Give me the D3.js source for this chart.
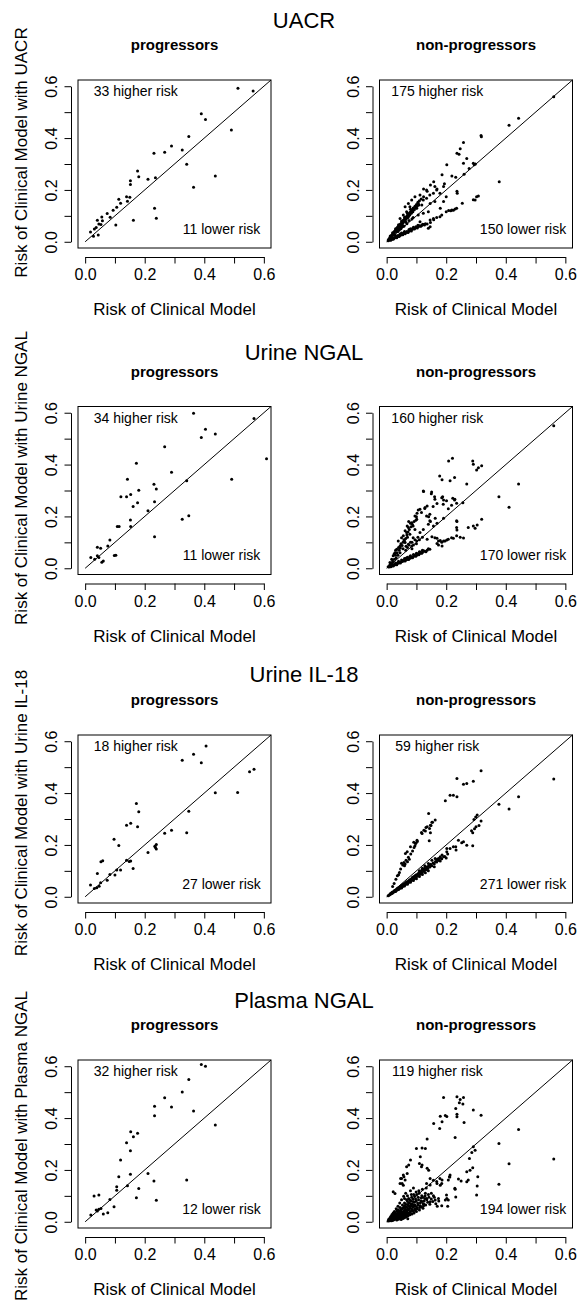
<!DOCTYPE html>
<html>
<head>
<meta charset="utf-8">
<script src="https://cdn.jsdelivr.net/npm/d3@7"></script>
<style>
  body { margin: 0; background: #fff; }
  text { font-family: "Liberation Sans", Arial, Helvetica, sans-serif; }
</style>
</head>
<body>
<div id="chart"></div>
<script>
// Labels and counts
const markers = ["UACR", "Urine NGAL", "Urine IL-18", "Plasma NGAL"];
const groups = ["progressors", "non-progressors"];
const higherCounts = [[33, 175], [34, 160], [18, 59], [32, 119]];
const lowerCounts = [[11, 150], [11, 170], [27, 271], [12, 194]];
const tickValues = [0, 0.1, 0.2, 0.3, 0.4, 0.5, 0.6];
const labeledTicks = [0, 0.2, 0.4, 0.6];
const axisLimits = [-0.024, 0.624];

// [risk of clinical model, risk of clinical model + marker]
const uacrProg = [[0.513,0.592],[0.564,0.582],[0.390,0.494],[0.404,0.472],[0.491,0.431],[0.348,0.406],[0.290,0.369],[0.267,0.345],[0.231,0.341],[0.326,0.354],[0.341,0.299],[0.176,0.273],[0.180,0.251],[0.152,0.235],[0.152,0.221],[0.211,0.241],[0.236,0.247],[0.364,0.210],[0.437,0.254],[0.139,0.174],[0.150,0.172],[0.142,0.156],[0.113,0.164],[0.119,0.149],[0.106,0.133],[0.094,0.122],[0.074,0.109],[0.084,0.095],[0.056,0.096],[0.058,0.081],[0.041,0.083],[0.046,0.069],[0.053,0.067],[0.037,0.055],[0.031,0.049],[0.018,0.038],[0.028,0.021],[0.044,0.026],[0.103,0.065],[0.162,0.083],[0.233,0.129],[0.239,0.091]];

const uacrNon = [[0.561,0.559],[0.443,0.476],[0.411,0.449],[0.317,0.410],[0.318,0.405],[0.258,0.383],[0.247,0.359],[0.236,0.341],[0.243,0.338],[0.269,0.321],[0.258,0.303],[0.202,0.297],[0.291,0.303],[0.294,0.297],[0.298,0.300],[0.277,0.283],[0.260,0.260],[0.232,0.249],[0.219,0.254],[0.186,0.259],[0.194,0.224],[0.158,0.232],[0.147,0.219],[0.124,0.204],[0.136,0.195],[0.124,0.174],[0.169,0.204],[0.191,0.213],[0.378,0.232],[0.302,0.174],[0.308,0.177],[0.291,0.162],[0.254,0.149],[0.236,0.195],[0.191,0.155],[0.180,0.129],
  [0.200,0.174],[0.237,0.187],[0.134,0.200],[0.145,0.180],[0.157,0.187],[0.168,0.200],[0.179,0.187],[0.162,0.213],[0.112,0.180],[0.095,0.174],[0.084,0.161],[0.123,0.161],[0.134,0.168],[0.106,0.148],[0.118,0.142],[0.146,0.148],[0.162,0.155],[0.073,0.148],[0.062,0.135],[0.078,0.135],[0.089,0.129],[0.101,0.129],[0.067,0.116],[0.084,0.116],[0.056,0.103],[0.073,0.099],[0.045,0.090],[0.061,0.084],[0.089,0.094],[0.106,0.103],[0.123,0.110],[0.140,0.116],
  [0.010,0.016],[0.013,0.020],[0.016,0.024],[0.020,0.030],[0.023,0.035],[0.026,0.040],[0.030,0.045],[0.033,0.050],[0.036,0.055],[0.040,0.060],[0.043,0.064],[0.046,0.069],[0.050,0.074],[0.053,0.079],[0.056,0.083],[0.060,0.088],[0.063,0.092],[0.066,0.097],[0.070,0.102],[0.074,0.107],[0.078,0.113],[0.082,0.118],[0.086,0.124],[0.090,0.130],[0.095,0.137],[0.100,0.144],[0.105,0.152],[0.110,0.158],[0.116,0.165],[0.020,0.035],[0.030,0.050],[0.040,0.066],[0.050,0.080],[0.060,0.095],[0.070,0.110],[0.080,0.125],[0.025,0.032],[0.035,0.048],[0.045,0.058],[0.055,0.072],[0.065,0.088],[0.075,0.100],
  [0.012,0.022],[0.018,0.026],[0.022,0.028],[0.028,0.042],[0.032,0.040],[0.038,0.058],[0.042,0.052],[0.048,0.066],[0.052,0.064],[0.058,0.078],[0.062,0.082],[0.068,0.092],[0.072,0.094],[0.078,0.104],[0.083,0.110],[0.088,0.116],[0.093,0.124],[0.098,0.130],[0.103,0.138],[0.108,0.142],[0.035,0.040],[0.045,0.050],[0.055,0.062],[0.065,0.075],[0.075,0.082],[0.042,0.045],[0.052,0.058],
  [0.005,0.004],[0.008,0.006],[0.006,0.009],[0.010,0.010],[0.012,0.013],[0.015,0.014],[0.018,0.020],[0.028,0.027],[0.038,0.040],[0.048,0.050],[0.058,0.060],[0.068,0.070],[0.085,0.088],
  [0.012,0.008],[0.016,0.010],[0.020,0.012],[0.024,0.014],[0.028,0.016],[0.032,0.018],[0.036,0.020],[0.040,0.022],[0.044,0.024],[0.048,0.026],[0.052,0.029],[0.056,0.031],[0.060,0.033],[0.065,0.036],[0.070,0.038],[0.075,0.041],[0.080,0.044],[0.085,0.047],[0.090,0.050],[0.095,0.052],[0.100,0.055],[0.106,0.058],[0.112,0.061],[0.118,0.064],[0.124,0.067],[0.130,0.070],[0.030,0.022],[0.045,0.030],[0.060,0.040],[0.075,0.047],[0.090,0.056],[0.105,0.064],[0.020,0.016],[0.050,0.034],[0.080,0.050],[0.136,0.069],[0.147,0.074],[0.158,0.085],[0.140,0.052],[0.146,0.058],[0.112,0.077],[0.146,0.084],[0.157,0.090],[0.168,0.094],[0.179,0.097],[0.185,0.103],[0.200,0.116],[0.208,0.121],[0.215,0.120],[0.219,0.123],[0.224,0.122],[0.230,0.126],[0.235,0.129],[0.297,0.161],
  [0.014,0.006],[0.022,0.010],[0.026,0.016],[0.034,0.016],[0.038,0.024],[0.042,0.020],[0.046,0.028],[0.054,0.027],[0.058,0.036],[0.062,0.031],[0.068,0.040],[0.072,0.036],[0.078,0.046],[0.083,0.042],[0.088,0.052],[0.093,0.049],[0.098,0.058],[0.103,0.053],[0.109,0.062],[0.115,0.060],[0.121,0.068],[0.127,0.065]];

const ungalProg = [[0.364,0.598],[0.567,0.578],[0.609,0.422],[0.390,0.504],[0.404,0.536],[0.437,0.518],[0.267,0.469],[0.172,0.405],[0.142,0.343],[0.290,0.370],[0.341,0.338],[0.492,0.343],[0.231,0.324],[0.239,0.306],[0.180,0.301],[0.120,0.276],[0.139,0.276],[0.153,0.285],[0.176,0.253],[0.233,0.257],[0.161,0.238],[0.211,0.222],[0.152,0.186],[0.326,0.189],[0.348,0.203],[0.108,0.161],[0.114,0.161],[0.153,0.161],[0.083,0.109],[0.076,0.086],[0.233,0.122],[0.041,0.081],[0.052,0.077],[0.019,0.042],[0.032,0.035],[0.041,0.048],[0.046,0.042],[0.056,0.023],[0.061,0.028],[0.098,0.049],[0.103,0.050]];

const ungalNon = [[0.561,0.550],[0.208,0.414],[0.221,0.424],[0.289,0.414],[0.291,0.401],[0.302,0.379],[0.308,0.388],[0.319,0.395],[0.178,0.356],[0.186,0.341],[0.228,0.350],[0.213,0.338],[0.269,0.325],[0.377,0.276],[0.411,0.235],[0.443,0.325],[0.124,0.296],[0.150,0.287],[0.161,0.276],[0.188,0.276],[0.191,0.263],[0.222,0.270],[0.228,0.263],[0.256,0.253],[0.169,0.250],[0.156,0.238],[0.136,0.240],[0.128,0.231],[0.106,0.225],[0.102,0.212],[0.100,0.199],[0.074,0.180],[0.080,0.174],[0.069,0.163],[0.141,0.199],[0.147,0.180],[0.163,0.193],[0.169,0.174],[0.191,0.193],[0.236,0.180],[0.236,0.148],[0.247,0.120],[0.258,0.117],[0.224,0.116],[0.202,0.109],[0.191,0.105],[0.180,0.107],[0.169,0.116],[0.169,0.096],[0.174,0.090],[0.186,0.086],[0.274,0.157],[0.291,0.163],[0.297,0.154],[0.304,0.167],[0.319,0.189],[0.152,0.122],[0.136,0.112],
  [0.123,0.298],[0.151,0.294],[0.162,0.266],[0.185,0.272],[0.201,0.260],[0.190,0.247],[0.218,0.243],[0.229,0.266],[0.235,0.251],[0.207,0.230],[0.112,0.228],[0.117,0.215],[0.129,0.234],[0.134,0.202],[0.145,0.208],[0.095,0.202],[0.101,0.189],[0.084,0.176],[0.089,0.163],[0.145,0.183],[0.140,0.170],[0.157,0.163],[0.123,0.150],[0.112,0.138],[0.073,0.157],[0.067,0.138],[0.056,0.125],[0.078,0.131],[0.089,0.118],[0.101,0.105],[0.062,0.099],[0.045,0.086],[0.050,0.118],[0.039,0.105],[0.034,0.073],[0.028,0.060],[0.022,0.048],[0.017,0.035],[0.011,0.022],[0.073,0.093],[0.084,0.086],[0.062,0.145],[0.058,0.110],[0.048,0.095],[0.040,0.080],[0.030,0.070],[0.025,0.055],[0.070,0.120],[0.095,0.150],[0.080,0.100],[0.090,0.090],[0.100,0.095],[0.110,0.110],[0.120,0.120],
  [0.030,0.050],[0.035,0.060],[0.042,0.070],[0.046,0.078],[0.052,0.088],[0.055,0.100],[0.060,0.105],[0.064,0.115],[0.068,0.128],[0.072,0.140],[0.076,0.150],[0.082,0.160],[0.086,0.170],[0.092,0.180],[0.098,0.185],[0.045,0.060],[0.055,0.075],[0.065,0.085],[0.075,0.090],[0.085,0.100],[0.095,0.110],[0.105,0.120],[0.038,0.050],[0.032,0.040],[0.026,0.035],[0.020,0.028],[0.064,0.070],[0.070,0.080],[0.085,0.075],
  [0.162,0.118],[0.174,0.105],[0.185,0.100],[0.196,0.105],[0.207,0.112],[0.218,0.118],[0.235,0.125],[0.235,0.183],[0.235,0.157],
  [0.008,0.005],[0.012,0.007],[0.016,0.009],[0.020,0.011],[0.024,0.012],[0.028,0.014],[0.032,0.016],[0.036,0.018],[0.040,0.020],[0.044,0.022],[0.048,0.024],[0.052,0.026],[0.056,0.028],[0.060,0.030],[0.064,0.032],[0.068,0.034],[0.072,0.036],[0.076,0.038],[0.080,0.040],[0.085,0.043],[0.090,0.045],[0.095,0.048],[0.100,0.050],[0.105,0.053],[0.110,0.056],[0.115,0.059],[0.120,0.062],[0.128,0.066],[0.136,0.070],[0.145,0.073],[0.030,0.020],[0.040,0.027],[0.050,0.032],[0.060,0.038],[0.070,0.043],[0.080,0.048],[0.090,0.053],[0.100,0.058],[0.110,0.064],[0.120,0.070],[0.005,0.006],[0.010,0.012],[0.015,0.016],[0.020,0.022],[0.014,0.018],[0.018,0.014],
  [0.014,0.006],[0.022,0.009],[0.026,0.015],[0.034,0.014],[0.038,0.022],[0.046,0.020],[0.054,0.030],[0.062,0.028],[0.066,0.040],[0.074,0.034],[0.078,0.045],[0.087,0.041],[0.093,0.050],[0.098,0.046],[0.103,0.056],[0.108,0.052],[0.113,0.062],[0.118,0.058],[0.124,0.068],[0.132,0.064],[0.140,0.075]];

const il18Prog = [[0.406,0.582],[0.364,0.550],[0.326,0.527],[0.390,0.517],[0.567,0.492],[0.552,0.482],[0.437,0.401],[0.512,0.402],[0.172,0.360],[0.180,0.328],[0.348,0.330],[0.139,0.276],[0.153,0.284],[0.176,0.270],[0.097,0.222],[0.113,0.198],[0.290,0.257],[0.267,0.245],[0.341,0.247],[0.239,0.202],[0.234,0.195],[0.236,0.190],[0.239,0.184],[0.211,0.171],[0.139,0.141],[0.148,0.136],[0.153,0.138],[0.161,0.109],[0.106,0.103],[0.119,0.103],[0.100,0.084],[0.083,0.086],[0.074,0.064],[0.053,0.135],[0.059,0.139],[0.041,0.090],[0.018,0.045],[0.031,0.032],[0.039,0.035],[0.047,0.041],[0.052,0.054]];

const il18Non = [[0.561,0.454],[0.317,0.486],[0.236,0.456],[0.269,0.437],[0.258,0.434],[0.291,0.446],[0.213,0.392],[0.224,0.392],[0.236,0.386],[0.197,0.370],[0.377,0.357],[0.443,0.386],[0.411,0.339],[0.141,0.321],[0.163,0.296],[0.152,0.287],[0.147,0.276],[0.136,0.270],[0.144,0.263],[0.130,0.254],[0.147,0.247],[0.119,0.244],[0.102,0.218],[0.091,0.210],[0.097,0.206],[0.080,0.193],[0.069,0.174],[0.063,0.167],
  [0.299,0.308],[0.304,0.315],[0.293,0.298],[0.317,0.292],[0.289,0.247],[0.289,0.197],[0.258,0.212],[0.252,0.208],[0.241,0.218],[0.232,0.193],[0.233,0.180],[0.224,0.193],[0.213,0.186],[0.202,0.186],[0.202,0.174],[0.186,0.161],[0.180,0.154],[0.174,0.148],[0.169,0.144],[0.163,0.148],[0.152,0.141],[0.191,0.154],[0.269,0.199],[0.295,0.262],[0.300,0.270],[0.285,0.255],[0.310,0.275],
  [0.025,0.051],[0.031,0.068],[0.036,0.081],[0.043,0.094],[0.047,0.107],[0.054,0.123],[0.058,0.132],[0.065,0.141],[0.073,0.152],[0.081,0.165],[0.087,0.177],[0.092,0.190],[0.098,0.206],[0.103,0.213],[0.050,0.129],[0.062,0.126],[0.076,0.145],[0.095,0.197],[0.117,0.248],[0.125,0.257],[0.132,0.267],[0.143,0.216],[0.149,0.275],[0.154,0.287],[0.020,0.040],[0.040,0.085],[0.060,0.120],[0.070,0.135],
  [0.005,0.004],[0.008,0.006],[0.011,0.009],[0.014,0.011],[0.017,0.013],[0.020,0.015],[0.023,0.017],[0.026,0.020],[0.029,0.022],[0.032,0.024],[0.035,0.026],[0.038,0.029],[0.041,0.031],[0.044,0.033],[0.047,0.035],[0.050,0.037],[0.053,0.040],[0.056,0.042],[0.059,0.044],[0.062,0.047],[0.065,0.049],[0.068,0.051],[0.071,0.054],[0.074,0.056],[0.077,0.058],[0.080,0.061],[0.084,0.064],[0.088,0.067],[0.092,0.070],[0.096,0.073],[0.100,0.077],[0.105,0.081],[0.110,0.085],[0.115,0.089],[0.120,0.094],[0.126,0.099],[0.132,0.104],[0.138,0.109],[0.145,0.115],[0.152,0.120],[0.160,0.127],[0.168,0.134],[0.176,0.140],[0.185,0.147],[0.195,0.155],[0.205,0.165],
  [0.015,0.014],[0.025,0.022],[0.035,0.031],[0.045,0.039],[0.055,0.047],[0.065,0.055],[0.075,0.063],[0.085,0.071],[0.095,0.080],[0.105,0.088],[0.115,0.097],[0.125,0.106],[0.135,0.115],[0.145,0.123],[0.030,0.020],[0.050,0.034],[0.070,0.048],[0.090,0.063],[0.110,0.078],[0.130,0.093],[0.120,0.110],[0.128,0.120],[0.140,0.128],[0.110,0.100],
  [0.012,0.012],[0.018,0.017],[0.024,0.021],[0.028,0.025],[0.033,0.028],[0.038,0.034],[0.043,0.036],[0.048,0.042],[0.052,0.044],[0.058,0.050],[0.063,0.052],[0.068,0.058],[0.073,0.060],[0.078,0.066],[0.082,0.068],[0.087,0.075],[0.092,0.078],[0.098,0.084],[0.103,0.086],[0.108,0.093],[0.113,0.094],[0.118,0.102],[0.123,0.103],[0.128,0.110],[0.134,0.112],[0.140,0.118],[0.148,0.125],[0.156,0.130],[0.164,0.136],[0.172,0.145],[0.180,0.150],[0.040,0.028],[0.060,0.042],[0.080,0.056],[0.100,0.070],[0.120,0.086],[0.140,0.100],[0.160,0.116],[0.180,0.138],[0.200,0.150]];

const pngalProg = [[0.390,0.607],[0.404,0.600],[0.348,0.549],[0.326,0.501],[0.267,0.478],[0.290,0.443],[0.233,0.446],[0.233,0.409],[0.364,0.427],[0.437,0.373],[0.153,0.347],[0.162,0.328],[0.176,0.341],[0.139,0.305],[0.152,0.274],[0.119,0.238],[0.113,0.174],[0.152,0.183],[0.211,0.186],[0.231,0.157],[0.180,0.128],[0.142,0.139],[0.106,0.135],[0.106,0.122],[0.341,0.161],[0.172,0.093],[0.239,0.083],[0.083,0.086],[0.097,0.058],[0.030,0.099],[0.046,0.103],[0.019,0.026],[0.037,0.045],[0.041,0.042],[0.046,0.048],[0.053,0.051],[0.061,0.030],[0.076,0.035]];

const pngalNon = [[0.561,0.242],[0.443,0.356],[0.377,0.302],[0.377,0.145],[0.411,0.224],[0.317,0.411],[0.291,0.431],[0.236,0.482],[0.247,0.472],[0.258,0.479],[0.244,0.459],[0.256,0.454],[0.191,0.479],[0.232,0.437],[0.236,0.415],[0.236,0.405],[0.260,0.383],[0.230,0.325],[0.180,0.407],[0.186,0.386],[0.197,0.410],[0.202,0.406],[0.178,0.360],[0.158,0.379],[0.136,0.319],[0.130,0.283],[0.119,0.285],[0.100,0.283],[0.113,0.251],[0.119,0.219],[0.136,0.206],[0.141,0.199],[0.080,0.238],[0.074,0.219],[0.069,0.186],[0.058,0.174],[0.047,0.167],[0.052,0.148],[0.291,0.289],[0.297,0.276],[0.286,0.267],[0.278,0.244],[0.289,0.208],[0.306,0.174],[0.304,0.138],[0.302,0.103],[0.280,0.199],[0.269,0.193],[0.241,0.165],[0.250,0.157],[0.269,0.154],[0.274,0.161],[0.213,0.180],[0.211,0.174],[0.186,0.161],[0.180,0.141],[0.169,0.148],[0.230,0.125],[0.232,0.096],[0.202,0.090],[0.197,0.084],
  [0.067,0.212],[0.110,0.225],[0.117,0.212],[0.056,0.180],[0.050,0.167],[0.062,0.161],[0.045,0.148],[0.056,0.141],[0.022,0.116],[0.028,0.109],
  [0.146,0.167],[0.157,0.160],[0.168,0.155],[0.179,0.167],[0.185,0.148],[0.134,0.148],[0.146,0.142],[0.207,0.161],[0.212,0.173],[0.229,0.129],[0.201,0.103],[0.207,0.084],[0.174,0.090],[0.163,0.084],[0.146,0.077],[0.134,0.090],[0.123,0.070],[0.157,0.100],[0.150,0.110],[0.140,0.105],[0.205,0.060],[0.185,0.062],[0.170,0.060],
  [0.005,0.003],[0.008,0.006],[0.010,0.004],[0.012,0.010],[0.014,0.007],[0.016,0.013],[0.018,0.009],[0.020,0.016],[0.020,0.005],[0.022,0.012],[0.024,0.020],[0.025,0.008],[0.027,0.015],[0.028,0.025],[0.030,0.011],[0.031,0.019],[0.033,0.030],[0.034,0.007],[0.035,0.014],[0.036,0.023],[0.038,0.035],[0.040,0.010],[0.040,0.018],[0.041,0.028],[0.043,0.041],[0.044,0.014],[0.045,0.022],[0.046,0.032],[0.048,0.046],[0.049,0.009],[0.050,0.017],[0.050,0.026],[0.052,0.037],[0.053,0.052],[0.055,0.013],[0.055,0.021],[0.056,0.030],[0.058,0.042],[0.059,0.060],[0.060,0.016],[0.061,0.025],[0.062,0.035],[0.063,0.048],[0.064,0.068],[0.066,0.019],[0.067,0.029],[0.068,0.040],[0.069,0.055],[0.070,0.078],[0.071,0.012],[0.072,0.023],[0.073,0.034],[0.074,0.046],[0.075,0.062],[0.077,0.085],[0.078,0.027],[0.079,0.038],[0.080,0.052],[0.082,0.070],[0.084,0.095],[0.085,0.030],[0.086,0.044],[0.088,0.058],[0.089,0.078],[0.091,0.105],[0.092,0.034],[0.094,0.050],[0.095,0.065],[0.097,0.088],[0.099,0.115],[0.100,0.040],[0.102,0.055],[0.104,0.072],[0.106,0.095],[0.108,0.120],[0.110,0.045],[0.112,0.062],[0.115,0.080],[0.118,0.100],[0.120,0.125],[0.122,0.052],[0.125,0.068],[0.128,0.090],[0.130,0.110],[0.133,0.130],[0.026,0.040],[0.032,0.050],[0.038,0.060],[0.044,0.072],[0.050,0.085],[0.057,0.098],[0.064,0.110],[0.070,0.100],[0.060,0.090],[0.080,0.120],[0.090,0.130],[0.014,0.020],[0.018,0.028],[0.022,0.034],[0.011,0.015],[0.016,0.004],
  [0.007,0.010],[0.011,0.006],[0.013,0.016],[0.015,0.010],[0.017,0.022],[0.019,0.012],[0.021,0.026],[0.023,0.009],[0.023,0.016],[0.026,0.030],[0.026,0.012],[0.029,0.020],[0.029,0.034],[0.032,0.014],[0.032,0.025],[0.034,0.042],[0.036,0.011],[0.037,0.030],[0.039,0.022],[0.039,0.046],[0.042,0.016],[0.042,0.035],[0.044,0.026],[0.045,0.055],[0.047,0.012],[0.047,0.040],[0.049,0.030],[0.051,0.048],[0.051,0.020],[0.053,0.065],[0.054,0.034],[0.057,0.024],[0.057,0.054],[0.059,0.038],[0.060,0.072],[0.061,0.045],[0.063,0.028],[0.065,0.058],[0.066,0.036],[0.067,0.085],[0.069,0.044],[0.070,0.025],[0.071,0.065],[0.073,0.050],[0.074,0.090],[0.076,0.032],[0.076,0.072],[0.078,0.058],[0.080,0.040],[0.081,0.080],[0.083,0.062],[0.083,0.105],[0.085,0.048],[0.087,0.068],[0.088,0.088],[0.090,0.040],[0.091,0.060],[0.093,0.075],[0.094,0.098],[0.096,0.046],[0.097,0.060],[0.099,0.080],[0.101,0.105],[0.103,0.050],[0.105,0.065],[0.107,0.085],[0.109,0.110],[0.111,0.055],[0.113,0.072],[0.116,0.092],[0.117,0.058],[0.119,0.078],[0.121,0.095],[0.124,0.062],[0.126,0.080],[0.129,0.100],[0.131,0.065],[0.135,0.085],[0.138,0.075],[0.142,0.095],[0.145,0.068],[0.150,0.088],[0.155,0.078],[0.160,0.095],[0.165,0.070],[0.175,0.080]];

const panelData = [[uacrProg, uacrNon], [ungalProg, ungalNon], [il18Prog, il18Non], [pngalProg, pngalNon]];

// Layout
const width = 578, height = 1305;
const rowTop = [80, 406.5, 735, 1060];
const titleY = [28, 360, 682, 1008];
const ylabCenter = [152.5, 478, 813, 1146];
const colLeft = [78, 379.5];
const boxW = 193, boxH = 168;

const svg = d3.select("#chart").append("svg")
    .attr("width", width)
    .attr("height", height);

const fmt = d3.format(".1f");

markers.forEach(function (marker, r) {
    const top = rowTop[r];

    // Row title
    svg.append("text")
        .attr("x", 304)
        .attr("y", titleY[r])
        .attr("text-anchor", "middle")
        .attr("font-size", 22)
        .text(marker);

    // Y axis title (left panel only)
    svg.append("text")
        .attr("transform", `translate(26.7, ${ylabCenter[r]}) rotate(-90)`)
        .attr("text-anchor", "middle")
        .attr("font-size", 17)
        .text("Risk of Clinical Model with " + marker);

    groups.forEach(function (group, c) {
        const left = colLeft[c];
        const x = d3.scaleLinear().domain(axisLimits).range([left, left + boxW]);
        const y = d3.scaleLinear().domain(axisLimits).range([top + boxH, top]);
        const xa = d3.scaleLinear().domain([0, 0.6]).range([x(0), x(0.6)]);
        const ya = d3.scaleLinear().domain([0, 0.6]).range([y(0), y(0.6)]);
        const cx = left + boxW / 2;

        svg.append("text")
            .attr("x", cx)
            .attr("y", top - 30)
            .attr("text-anchor", "middle")
            .attr("font-size", 15)
            .attr("font-weight", "bold")
            .text(group);

        // x axis
        const gx = svg.append("g")
            .attr("transform", `translate(0, ${top + boxH + 9})`)
            .call(d3.axisBottom(xa).tickValues(tickValues).tickSizeInner(6.5).tickSizeOuter(0)
                .tickFormat(d => labeledTicks.includes(d) ? fmt(d) : ""));
        gx.attr("font-size", 16).attr("font-family", null);
        gx.selectAll("text").attr("y", 23).attr("dy", null).attr("fill", "#000");
        gx.selectAll("line, path").attr("stroke", "#000");

        // y axis, labels parallel to the axis
        const gy = svg.append("g")
            .attr("transform", `translate(${left - 7}, 0)`)
            .call(d3.axisLeft(ya).tickValues(tickValues).tickSizeInner(6.5).tickSizeOuter(0)
                .tickFormat(d => labeledTicks.includes(d) ? fmt(d) : ""));
        gy.attr("font-size", 16).attr("font-family", null);
        gy.selectAll("text")
            .attr("x", null).attr("dy", null)
            .attr("text-anchor", "middle")
            .attr("transform", "translate(-14, 0) rotate(-90)")
            .attr("fill", "#000");
        gy.selectAll("line, path").attr("stroke", "#000");

        // plot box
        svg.append("rect")
            .attr("x", left)
            .attr("y", top)
            .attr("width", boxW)
            .attr("height", boxH)
            .attr("fill", "none")
            .attr("stroke", "#000");

        // identity line
        svg.append("line")
            .attr("x1", x(0)).attr("y1", y(0))
            .attr("x2", x(axisLimits[1])).attr("y2", y(axisLimits[1]))
            .attr("stroke", "#000");

        // points
        svg.append("g")
            .selectAll("circle")
            .data(panelData[r][c])
            .join("circle")
            .attr("cx", d => x(d[0]))
            .attr("cy", d => y(d[1]))
            .attr("r", 1.5)
            .attr("fill", "#000");

        // counts
        svg.append("text")
            .attr("x", x(0.17))
            .attr("y", y(0.58))
            .attr("dy", "0.35em")
            .attr("text-anchor", "middle")
            .attr("font-size", 14)
            .text(higherCounts[r][c] + " higher risk");

        svg.append("text")
            .attr("x", x(0.458))
            .attr("y", y(0.05))
            .attr("dy", "0.35em")
            .attr("text-anchor", "middle")
            .attr("font-size", 14)
            .text(lowerCounts[r][c] + " lower risk");

        // x axis title
        svg.append("text")
            .attr("x", cx)
            .attr("y", top + boxH + 67)
            .attr("text-anchor", "middle")
            .attr("font-size", 17)
            .text("Risk of Clinical Model");
    });
});
</script>
</body>
</html>
